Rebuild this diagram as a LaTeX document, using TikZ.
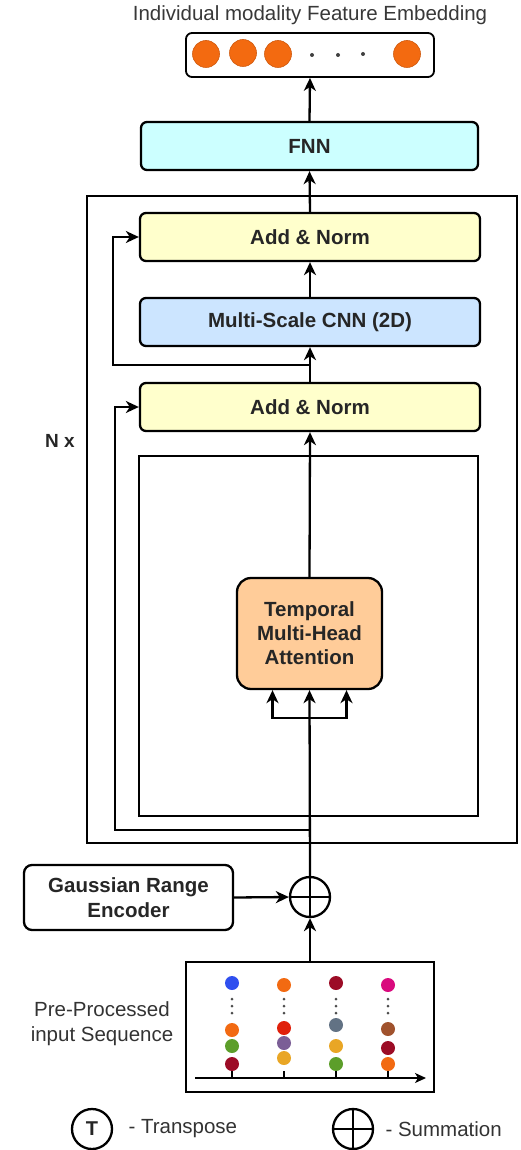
\documentclass[tikz,border=0pt]{standalone}
\usepackage{fontspec}
\setmainfont{Liberation Sans}
\usetikzlibrary{arrows.meta,calc}
\definecolor{embOrange}{HTML}{F36A10}
\definecolor{fnnFill}{HTML}{CCFFFF}
\definecolor{normFill}{HTML}{FFFFCC}
\definecolor{cnnFill}{HTML}{CCE5FF}
\definecolor{attFill}{HTML}{FFCC99}
\definecolor{cBlue}{HTML}{2F4FEF}
\definecolor{cOrange}{HTML}{F26A12}
\definecolor{cGreen}{HTML}{5C9E2A}
\definecolor{cDarkRed}{HTML}{9C0C26}
\definecolor{cRed}{HTML}{E0200B}
\definecolor{cPurple}{HTML}{7B5E96}
\definecolor{cGold}{HTML}{E9A625}
\definecolor{cSlate}{HTML}{627284}
\definecolor{cMagenta}{HTML}{D90A7E}
\definecolor{cBrown}{HTML}{A0522D}
\newcommand{\boldlbl}{\fontsize{20.5}{24}\selectfont\bfseries}
\newcommand{\plainlbl}{\fontsize{20.5}{25}\selectfont}
\tikzset{
  arr/.style={line width=2.3pt,-{Stealth[length=13pt,width=12pt,inset=4pt]}},
  blockbox/.style={draw,line width=2.3pt,rounded corners=6pt,minimum width=340pt,minimum height=48pt,font=\boldlbl,inner sep=0pt,text=black!85},
  frame/.style={draw,line width=2.3pt},
  dot/.style={circle,inner sep=0pt,minimum size=14pt},
  embdot/.style={circle,fill=embOrange,draw=embOrange!85!black,line width=0.6pt,inner sep=0pt,minimum size=27pt},
  tinydot/.style={circle,fill=black!75,inner sep=0pt,minimum size=4pt},
  sumcirc/.style={circle,draw,line width=2.3pt,minimum size=40pt,inner sep=0pt}
}
\begin{document}
\begin{tikzpicture}[x=1pt,y=-1pt]
\path[use as bounding box] (0,0) rectangle (521,1150);

% title and output embedding
\node[font=\plainlbl,text=black!78] (title) at (310,15) {Individual modality Feature Embedding};
\node[draw,line width=1.8pt,rounded corners=6pt,minimum width=248pt,minimum height=44pt,inner sep=0pt] (emb) at (310,55) {};
\node[embdot] (e1) at (206,54) {};
\node[embdot] (e2) at (243,53) {};
\node[embdot] (e3) at (278,54) {};
\node[tinydot] (d1) at (312,55) {};
\node[tinydot] (d2) at (338,55) {};
\node[tinydot] (d3) at (363,54) {};
\node[embdot] (e4) at (407,54) {};

% feed-forward head
\node[blockbox,fill=fnnFill,minimum width=337pt] (fnn) at (309.5,146) {FNN};

% repeated encoder layer
\draw[frame] (87,196) rectangle (517,843);
\node[font=\fontsize{19}{22}\selectfont\bfseries,text=black!85] (nx) at (60,441) {N x};
\node[blockbox,fill=normFill] (an2) at (310,237) {Add \& Norm};
\node[blockbox,fill=cnnFill] (cnn) at (310,322) {Multi-Scale CNN (2D)};
\node[blockbox,fill=normFill] (an1) at (310,407) {Add \& Norm};
\draw[frame] (139,456) rectangle (478,816);
\node[draw,line width=2.3pt,rounded corners=14pt,fill=attFill,minimum width=145pt,minimum height=111pt,align=center,font=\boldlbl,text=black!85,inner sep=0pt] (att) at (309.5,633.5) {Temporal\\Multi-Head\\Attention};

% positional encoding and sum
\node[sumcirc] (sum) at (310,897) {};
\draw[line width=1.8pt] (sum.north) -- (sum.south) (sum.west) -- (sum.east);
\node[draw,line width=2.3pt,rounded corners=8pt,minimum width=209pt,minimum height=65pt,align=center,font=\fontsize{20.5}{25.5}\selectfont\bfseries,text=black!85,inner sep=0pt] (gre) at (128.5,897.5) {Gaussian Range\\Encoder};

% input sequence panel
\node[draw,line width=1.8pt,minimum width=248pt,minimum height=130pt,inner sep=0pt] (inp) at (310,1027) {};
\node[align=center,font=\plainlbl,text=black!80] (inlbl) at (102,1024) {Pre-Processed\\input Sequence};
\coordinate (ax0) at (195,1078);
\coordinate (ax1) at (426,1078);
\draw[line width=1.5pt,-{Stealth[length=11pt,width=10pt,inset=3pt]}] (ax0) -- (ax1);
\foreach \x in {232,284,336,388}{
  \draw[line width=1.5pt] (\x,1071) -- (\x,1078);
  \foreach \yy in {999,1006,1013}{ \fill[black!70] (\x,\yy) circle (1.5pt); }
}
\node[dot,fill=cBlue] (p11) at (232,983) {};
\node[dot,fill=cOrange] (p12) at (232,1030) {};
\node[dot,fill=cGreen] (p13) at (232,1046) {};
\node[dot,fill=cDarkRed] (p14) at (232,1064) {};
\node[dot,fill=cOrange] (p21) at (284,985) {};
\node[dot,fill=cRed] (p22) at (284,1028) {};
\node[dot,fill=cPurple] (p23) at (284,1043) {};
\node[dot,fill=cGold] (p24) at (284,1058) {};
\node[dot,fill=cDarkRed] (p31) at (336,983) {};
\node[dot,fill=cSlate] (p32) at (336,1025) {};
\node[dot,fill=cGold] (p33) at (336,1046) {};
\node[dot,fill=cGreen] (p34) at (336,1064) {};
\node[dot,fill=cMagenta] (p41) at (388,985) {};
\node[dot,fill=cBrown] (p42) at (388,1029) {};
\node[dot,fill=cDarkRed] (p43) at (388,1048) {};
\node[dot,fill=cOrange] (p44) at (388,1064) {};

% legend
\node[sumcirc,font=\fontsize{20}{24}\selectfont\bfseries,text=black!85] (lt) at (92,1129) {T};
\node[anchor=west,font=\plainlbl,text=black!80] (ltx) at (125,1129) {- Transpose};
\node[sumcirc] (ls) at (353,1129) {};
\draw[line width=1.8pt] (ls.north) -- (ls.south) (ls.west) -- (ls.east);
\node[anchor=west,font=\plainlbl,text=black!80] (lsx) at (382,1129) {- Summation};

% connectors
\coordinate (br) at (310,718);
\coordinate (r2) at (310,830);
\coordinate (r1) at (310,365);
\draw[arr] (inp.north) -- (sum.south);
\draw[arr] (gre.east) -- (sum.west);
\draw[arr] (sum.north) -- (att.south);
\draw[arr] (br) -| ([xshift=-37pt]att.south);
\draw[arr] (br) -| ([xshift=37pt]att.south);
\draw[arr] (r2) -- (115,830) |- (an1.west);
\draw[arr] (att.north) -- (an1.south);
\draw[arr] (an1.north) -- (cnn.south);
\draw[arr] (r1) -- (113,365) |- (an2.west);
\draw[arr] (cnn.north) -- (an2.south);
\draw[arr] (an2.north) -- (fnn.south);
\draw[arr] (fnn.north) -- (emb.south);
\end{tikzpicture}
\end{document}
